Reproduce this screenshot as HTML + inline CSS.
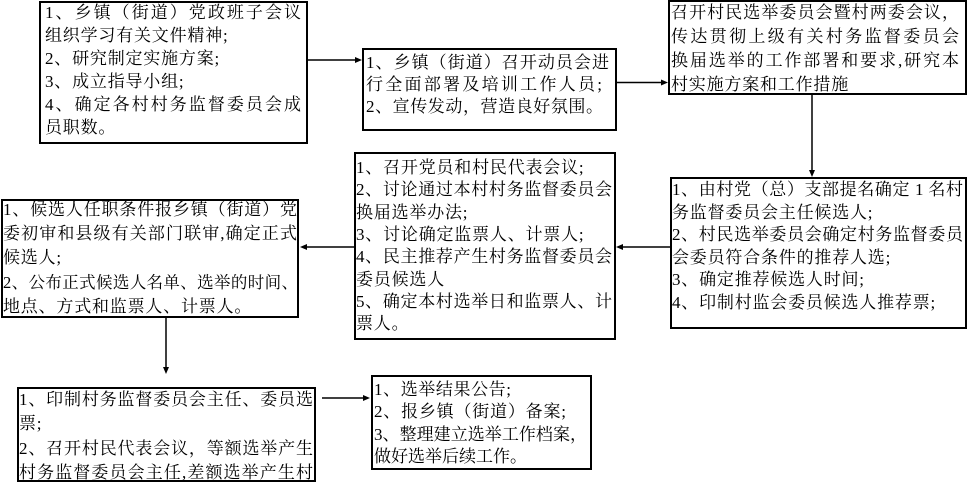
<!DOCTYPE html>
<html>
<head>
<meta charset="utf-8">
<style>
html,body{margin:0;padding:0;}
body{width:971px;height:482px;position:relative;background:#fff;overflow:hidden;
font-family:"Liberation Serif","Noto Serif CJK SC","Noto Serif CJK JP",serif;font-size:17px;color:#000;}
.b{position:absolute;border:2px solid #000;box-sizing:border-box;}
.l{position:absolute;height:22px;line-height:22px;letter-spacing:0.8px;white-space:nowrap;overflow:visible;}
.j{text-align:justify;text-align-last:justify;letter-spacing:0;white-space:normal;}
svg{position:absolute;left:0;top:0;}
</style>
</head>
<body>
<!-- boxes -->
<div class="b" style="left:39px;top:1px;width:269px;height:143px;"></div>
<div class="b" style="left:362px;top:48px;width:255px;height:83px;"></div>
<div class="b" style="left:668px;top:0px;width:299px;height:95px;"></div>
<div class="b" style="left:670px;top:177px;width:297px;height:152px;"></div>
<div class="b" style="left:354px;top:152px;width:262px;height:188px;"></div>
<div class="b" style="left:1px;top:199px;width:298px;height:119px;"></div>
<div class="b" style="left:17px;top:387px;width:299px;height:95px;"></div>
<div class="b" style="left:371px;top:375px;width:221px;height:95px;"></div>

<!-- Box 1 -->
<div class="l j" style="left:45px;top:2px;width:256px;">1、乡镇（街道）党政班子会议</div>
<div class="l" style="left:45px;top:25px;width:256px;">组织学习有关文件精神;</div>
<div class="l" style="left:45px;top:48px;width:256px;">2、研究制定实施方案;</div>
<div class="l" style="left:45px;top:71px;width:256px;">3、成立指导小组;</div>
<div class="l j" style="left:45px;top:94px;width:256px;">4、确定各村村务监督委员会成</div>
<div class="l" style="left:45px;top:117px;width:256px;">员职数。</div>

<!-- Box 2 -->
<div class="l j" style="left:366px;top:52px;width:243px;">1、乡镇（街道）召开动员会进</div>
<div class="l j" style="left:366px;top:74px;width:236px;">行全面部署及培训工作人员;</div>
<div class="l j" style="left:366px;top:96px;width:237px;">2、宣传发动，营造良好氛围。</div>

<!-- Box 3 -->
<div class="l j" style="left:671px;top:2px;width:288px;">召开村民选举委员会暨村两委会议，</div>
<div class="l j" style="left:671px;top:26px;width:288px;">传达贯彻上级有关村务监督委员会</div>
<div class="l j" style="left:671px;top:50px;width:288px;">换届选举的工作部署和要求,研究本</div>
<div class="l" style="left:671px;top:74px;width:288px;">村实施方案和工作措施</div>

<!-- Box 4 -->
<div class="l j" style="left:672px;top:179px;width:291px;">1、由村党（总）支部提名确定 1 名村</div>
<div class="l" style="left:672px;top:201.6px;width:291px;">务监督委员会主任候选人;</div>
<div class="l j" style="left:672px;top:224.2px;width:291px;">2、村民选举委员会确定村务监督委员</div>
<div class="l" style="left:672px;top:246.8px;width:291px;">会委员符合条件的推荐人选;</div>
<div class="l" style="left:672px;top:269.4px;width:291px;">3、确定推荐候选人时间;</div>
<div class="l" style="left:672px;top:292px;width:291px;">4、印制村监会委员候选人推荐票;</div>

<!-- Box 5 -->
<div class="l" style="left:356px;top:157px;width:256px;">1、召开党员和村民代表会议;</div>
<div class="l j" style="left:356px;top:179.3px;width:256px;">2、讨论通过本村村务监督委员会</div>
<div class="l" style="left:356px;top:201.6px;width:256px;">换届选举办法;</div>
<div class="l" style="left:356px;top:223.9px;width:256px;">3、讨论确定监票人、计票人;</div>
<div class="l j" style="left:356px;top:246.2px;width:256px;">4、民主推荐产生村务监督委员会</div>
<div class="l" style="left:356px;top:268.5px;width:256px;">委员候选人</div>
<div class="l j" style="left:356px;top:290.8px;width:256px;">5、确定本村选举日和监票人、计</div>
<div class="l" style="left:356px;top:313.1px;width:256px;">票人。</div>

<!-- Box 6 -->
<div class="l j" style="left:3px;top:199px;width:294px;">1、候选人任职条件报乡镇（街道）党</div>
<div class="l j" style="left:3px;top:223.2px;width:294px;">委初审和县级有关部门联审,确定正式</div>
<div class="l" style="left:3px;top:247.4px;width:294px;">候选人;</div>
<div class="l j" style="left:3px;top:271.6px;width:295px;font-size:16.5px;">2、公布正式候选人名单、选举的时间、</div>
<div class="l" style="left:3px;top:295.8px;width:294px;">地点、方式和监票人、计票人。</div>

<!-- Box 7 -->
<div class="l j" style="left:19px;top:389px;width:294px;">1、印制村务监督委员会主任、委员选</div>
<div class="l" style="left:19px;top:413.3px;width:294px;">票;</div>
<div class="l j" style="left:19px;top:437.6px;width:294px;">2、召开村民代表会议，等额选举产生</div>
<div class="l j" style="left:19px;top:461.9px;width:294px;">村务监督委员会主任,差额选举产生村</div>

<!-- Box 8 -->
<div class="l j" style="left:374px;top:379px;width:137px;">1、选举结果公告;</div>
<div class="l j" style="left:374px;top:401.3px;width:192px;">2、报乡镇（街道）备案;</div>
<div class="l j" style="left:374px;top:423.6px;width:213px;">3、整理建立选举工作档案，</div>
<div class="l" style="left:374px;top:445.9px;width:213px;letter-spacing:0;">做好选举后续工作。</div>

<!-- connectors -->
<svg width="971" height="482" viewBox="0 0 971 482">
  <g stroke="#000" stroke-width="1.5" fill="none">
    <line x1="308" y1="60" x2="357" y2="60"/>
    <line x1="617" y1="82.5" x2="663" y2="82.5"/>
    <line x1="812" y1="95" x2="812" y2="171"/>
    <line x1="670" y1="247" x2="621" y2="247"/>
    <line x1="354" y1="247" x2="305" y2="247"/>
    <line x1="166" y1="318" x2="166" y2="368"/>
    <line x1="322" y1="398" x2="365" y2="398"/>
  </g>
  <g fill="#000">
    <polygon points="362,60 355,57 355,63"/>
    <polygon points="668,82.5 661,79.5 661,85.5"/>
    <polygon points="812,177 809,170 815,170"/>
    <polygon points="616,247 623,244 623,250"/>
    <polygon points="300,247 307,244 307,250"/>
    <polygon points="166,374 163,367 169,367"/>
    <polygon points="370,398 363,395 363,401"/>
  </g>
</svg>
</body>
</html>
